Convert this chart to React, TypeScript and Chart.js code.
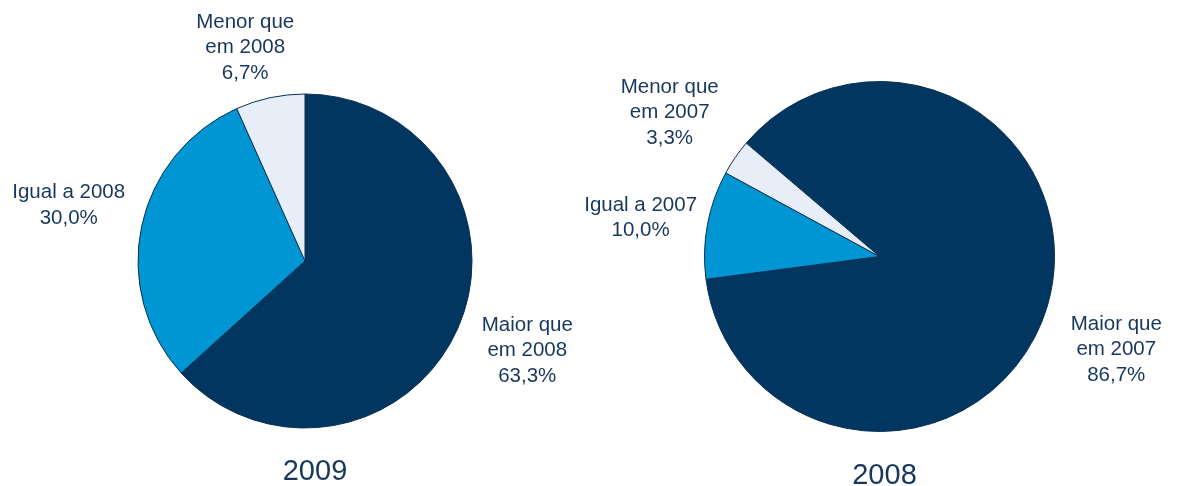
import React, { useEffect, useRef } from "react";
import { Chart, registerables } from "chart.js";

Chart.register(...registerables);

// ---- Data ----
const categories2009 = ["Maior que em 2008", "Igual a 2008", "Menor que em 2008"];
const values2009 = [63.3, 30.0, 6.7];
const labelLines2009 = [
  ["Maior que", "em 2008", "63,3%"],
  ["Igual a 2008", "30,0%"],
  ["Menor que", "em 2008", "6,7%"],
];

const categories2008 = ["Maior que em 2007", "Igual a 2007", "Menor que em 2007"];
const values2008 = [86.7, 10.0, 3.3];
const labelLines2008 = [
  ["Maior que", "em 2007", "86,7%"],
  ["Igual a 2007", "10,0%"],
  ["Menor que", "em 2007", "3,3%"],
];

const sliceColors = ["#00365F", "#0096D4", "#E7EEF8"];
const textColor = "#17375E";

// label anchor offsets, in units of radius, relative to pie center
const labelOffsets2009 = [
  [1.331, 0.536],
  [-1.415, -0.333],
  [-0.358, -1.279],
];
const labelOffsets2008 = [
  [1.353, 0.533],
  [-1.365, -0.222],
  [-1.199, -0.823],
];

type PieSpec = {
  title: string;
  categories: string[];
  values: number[];
  lines: string[][];
  offsets: number[][];
  rotation: number;
  left: number;
  width: number;
  padding: { left: number; right: number; top: number; bottom: number };
  titleDx: number;
  titleY: number;
};

const pies: PieSpec[] = [
  {
    title: "2009",
    categories: categories2009,
    values: values2009,
    lines: labelLines2009,
    offsets: labelOffsets2009,
    rotation: 0,
    left: 0,
    width: 591,
    padding: { left: 137.5, right: 118.5, top: 93.5, bottom: 57.5 },
    titleDx: 10,
    titleY: 472,
  },
  {
    title: "2008",
    categories: categories2008,
    values: values2008,
    lines: labelLines2008,
    offsets: labelOffsets2008,
    rotation: -49.6,
    left: 520,
    width: 662,
    padding: { left: 184, right: 127, top: 81, bottom: 54 },
    titleDx: 5,
    titleY: 476,
  },
];

function PieCanvas({ spec }: { spec: PieSpec }) {
  const ref = useRef<HTMLCanvasElement | null>(null);
  useEffect(() => {
    if (!ref.current) return;
    const labelPlugin = {
      id: "outerLabels",
      afterDraw(chart: any) {
        const ctx = chart.ctx;
        const meta = chart.getDatasetMeta(0);
        const arc0 = meta.data[0] as any;
        const cx = arc0.x;
        const cy = arc0.y;
        const r = arc0.outerRadius;
        ctx.save();
        ctx.fillStyle = textColor;
        ctx.textAlign = "center";
        ctx.textBaseline = "middle";
        ctx.font = "20.5px 'Liberation Sans', Arial, sans-serif";
        const lh = 25.5;
        spec.lines.forEach((lines, i) => {
          const [ox, oy] = spec.offsets[i];
          const x = cx + ox * r;
          const y = cy + oy * r;
          const start = y - ((lines.length - 1) * lh) / 2;
          lines.forEach((ln, j) => ctx.fillText(ln, x, start + j * lh));
        });
        ctx.font = "29px 'Liberation Sans', Arial, sans-serif";
        ctx.fillText(spec.title, cx + spec.titleDx, spec.titleY);
        ctx.restore();
      },
    };
    const chart = new Chart(ref.current, {
      type: "pie",
      data: {
        labels: spec.categories,
        datasets: [
          {
            data: spec.values,
            backgroundColor: sliceColors,
            borderColor: "#0A2F52",
            borderWidth: 1,
          },
        ],
      },
      options: {
        responsive: false,
        animation: false,
        rotation: spec.rotation,
        layout: { padding: spec.padding },
        plugins: {
          legend: { display: false },
          tooltip: { enabled: false },
          title: { display: false },
        },
      },
      plugins: [labelPlugin],
    });
    return () => chart.destroy();
  }, [spec]);
  return (
    <canvas
      ref={ref}
      width={spec.width}
      height={486}
      style={{ position: "absolute", left: spec.left, top: 0, width: spec.width, height: 486 }}
    />
  );
}

export default function App() {
  return (
    <div
      style={{
        position: "fixed",
        left: 0,
        top: 0,
        width: 1182,
        height: 486,
        background: "#ffffff",
        overflow: "hidden",
      }}
    >
      <PieCanvas spec={pies[0]} />
      <PieCanvas spec={pies[1]} />
    </div>
  );
}
